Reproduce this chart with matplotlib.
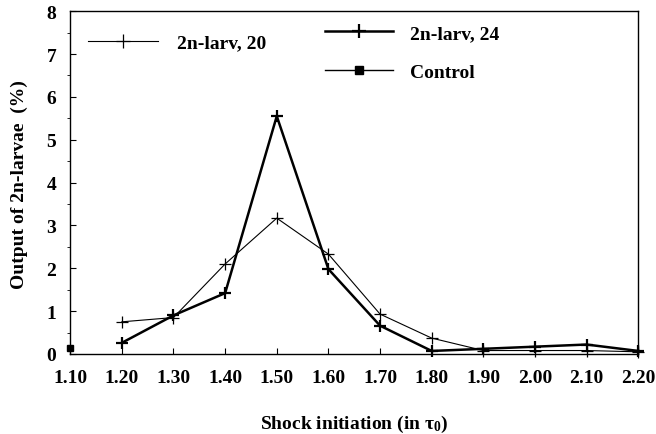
import numpy as np
import matplotlib.pyplot as plt
from matplotlib.lines import Line2D
from matplotlib.ticker import MultipleLocator

#---data---
shock = [1.20, 1.30, 1.40, 1.50, 1.60, 1.70, 1.80, 1.90, 2.00, 2.10, 2.20]
larv20 = [0.75, 0.85, 2.10, 3.17, 2.33, 0.93, 0.37, 0.08, 0.08, 0.08, 0.05]
larv24 = [0.26, 0.90, 1.42, 5.55, 1.98, 0.66, 0.07, 0.12, 0.17, 0.22, 0.07]
control_x = [1.10]
control_y = [0.14]
xticks = [1.10, 1.20, 1.30, 1.40, 1.50, 1.60, 1.70, 1.80, 1.90, 2.00, 2.10, 2.20]

plt.rcParams['font.family'] = ['Liberation Serif', 'DejaVu Serif']
plt.rcParams['font.weight'] = 'bold'
plt.rcParams['mathtext.fontset'] = 'custom'
plt.rcParams['mathtext.rm'] = 'Liberation Serif:bold'
plt.rcParams['mathtext.it'] = 'Liberation Serif:bold'
plt.rcParams['mathtext.bf'] = 'Liberation Serif:bold'

fs = 14

fig = plt.figure(figsize=(6.56, 4.35), dpi=100)
ax = fig.add_axes([0.107, 0.184, 0.866, 0.788])

ax.plot(shock, larv20, color='black', lw=0.8, marker='+', ms=9, mew=0.9, clip_on=False)
ax.plot(shock, larv24, color='black', lw=1.8, marker='+', ms=9, mew=1.6, clip_on=False)
ax.plot(control_x, control_y, color='black', ls='none', marker='s', ms=5, clip_on=False)

ax.set_xlim(1.10, 2.20)
ax.set_ylim(0, 8)
ax.set_xticks(xticks)
ax.set_xticklabels(['%.2f' % v for v in xticks])
ax.yaxis.set_major_locator(MultipleLocator(1))
ax.yaxis.set_minor_locator(MultipleLocator(0.5))
ax.tick_params(direction='in', labelsize=fs)
ax.tick_params(axis='x', pad=11, length=4)
ax.tick_params(axis='y', which='major', length=4, pad=10)
ax.tick_params(axis='y', which='minor', length=2)
for s in ax.spines.values():
    s.set_linewidth(1.0)

fig.text(0.54, 0.025, 'Shock initiation (in $\\tau_0$)', fontsize=fs, fontweight='bold',
         ha='center', va='center')
fig.text(0.03, 0.575, 'Output of 2n-larvae  (%)', fontsize=fs, fontweight='bold',
         ha='center', va='center', rotation=90)

#---legends---
h20 = Line2D([], [], color='black', lw=0.8, marker='+', ms=10, mew=0.9)
h24 = Line2D([], [], color='black', lw=1.8, marker='+', ms=10, mew=1.6)
hc = Line2D([], [], color='black', lw=1.0, marker='s', ms=6)
leg1 = ax.legend([h20], ['2n-larv, 20'], loc='upper left', bbox_to_anchor=(0.0, 0.985),
                 frameon=False, handlelength=3.6, handletextpad=1.0, fontsize=fs)
ax.add_artist(leg1)
ax.legend([h24, hc], ['2n-larv, 24', 'Control'], loc='upper left', bbox_to_anchor=(0.417, 1.012),
          frameon=False, handlelength=3.5, handletextpad=0.9, labelspacing=1.1, fontsize=fs)

fig.savefig('out.png', dpi=100)
